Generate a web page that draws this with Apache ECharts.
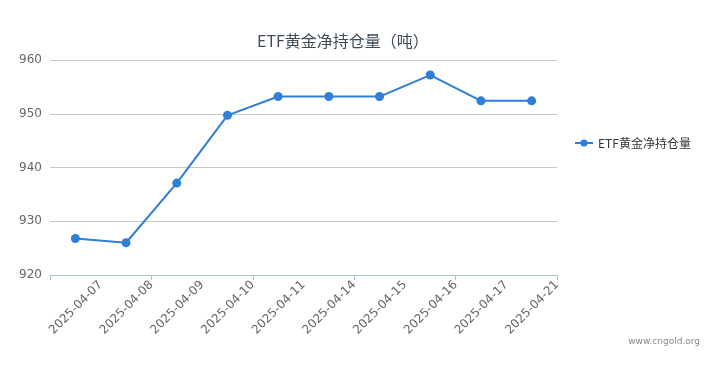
<!DOCTYPE html>
<html><head><meta charset="utf-8">
<script src="https://cdn.jsdelivr.net/npm/echarts@6/dist/echarts.min.js"></script>
<style>html,body{margin:0;padding:0;background:#fff}#c{width:713px;height:366px}</style>
</head><body><div id="c"></div>
<script>
const categories = ['2025-04-07','2025-04-08','2025-04-09','2025-04-10','2025-04-11','2025-04-14','2025-04-15','2025-04-16','2025-04-17','2025-04-21'];
const holdings = [926.8, 926.0, 937.1, 949.7, 953.2, 953.2, 953.2, 957.2, 952.4, 952.4];
const seriesName = 'ETF黄金净持仓量';
const yTicks = [920, 930, 940, 950, 960];

const chart = echarts.init(document.getElementById('c'), null, {renderer:'canvas'});
chart.setOption({
  animation:false,
  backgroundColor:'#fff',
  title:{text:'ETF黄金净持仓量（吨）', left:252, top:28,
    textStyle:{fontSize:16, fontWeight:'normal', color:'#3e4a57', fontFamily:'"Noto Sans CJK SC", sans-serif'}},
  legend:{orient:'vertical', left:569, top:132, itemWidth:18, itemHeight:9,
    data:[seriesName],
    textStyle:{fontSize:12, color:'#333', fontFamily:'"Noto Sans CJK SC", sans-serif'}},
  graphic:[{type:'text', right:13, top:337,
    style:{text:'www.cngold.org', fill:'#888', font:'9px "DejaVu Sans", sans-serif'}}],
  grid:{left:50, right:156, top:60, bottom:91},
  xAxis:[
    {type:'category', data:categories, boundaryGap:true,
      axisLine:{lineStyle:{color:'#b0c4d8'}},
      axisTick:{show:true, lineStyle:{color:'#b0c4d8'}},
      axisLabel:{show:false}},
    {type:'category', data:[''].concat(categories), boundaryGap:false, position:'bottom',
      axisLine:{show:false}, axisTick:{show:false},
      axisLabel:{rotate:45, color:'#666', fontSize:12, interval:0, margin:8, fontFamily:'"DejaVu Sans", sans-serif'}}
  ],
  yAxis:{type:'value', min:yTicks[0], max:yTicks[yTicks.length-1], interval:10,
    axisLine:{show:false}, axisTick:{show:false},
    axisLabel:{color:'#666', fontSize:12, margin:8, fontFamily:'"DejaVu Sans", sans-serif'},
    splitLine:{lineStyle:{color:'#c8c8c8'}}},
  series:[{name:seriesName, type:'line', data:holdings, xAxisIndex:0,
    symbol:'circle', symbolSize:9,
    itemStyle:{color:'#2f7ed8'}, lineStyle:{color:'#2f7ed8', width:2}}]
});
</script></body></html>
